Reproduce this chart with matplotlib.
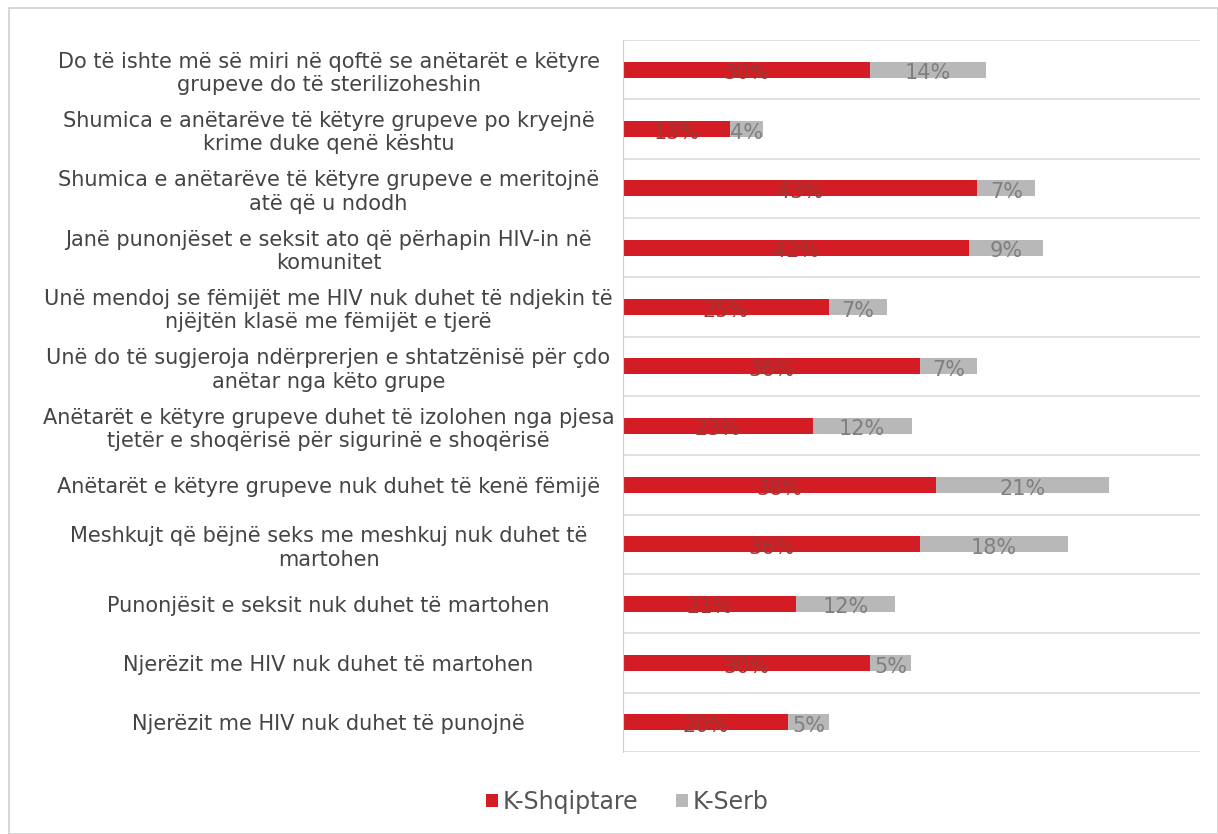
import matplotlib.pyplot as plt
from matplotlib.patches import Rectangle

plt.rcParams['font.family'] = ['DejaVu Sans']

# categories top to bottom
categories = [
    "Do të ishte më së miri në qoftë se anëtarët e këtyre\ngrupeve do të sterilizoheshin",
    "Shumica e anëtarëve të këtyre grupeve po kryejnë\nkrime duke qenë kështu",
    "Shumica e anëtarëve të këtyre grupeve e meritojnë\natë që u ndodh",
    "Janë punonjëset e seksit ato që përhapin HIV-in në\nkomunitet",
    "Unë mendoj se fëmijët me HIV nuk duhet të ndjekin të\nnjëjtën klasë me fëmijët e tjerë",
    "Unë do të sugjeroja ndërprerjen e shtatzënisë për çdo\nanëtar nga këto grupe",
    "Anëtarët e këtyre grupeve duhet të izolohen nga pjesa\ntjetër e shoqërisë për sigurinë e shoqërisë",
    "Anëtarët e këtyre grupeve nuk duhet të kenë fëmijë",
    "Meshkujt që bëjnë seks me meshkuj nuk duhet të\nmartohen",
    "Punonjësit e seksit nuk duhet të martohen",
    "Njerëzit me HIV nuk duhet të martohen",
    "Njerëzit me HIV nuk duhet të punojnë",
]
shqiptare = [30, 13, 43, 42, 25, 36, 23, 38, 36, 21, 30, 20]
serb = [14, 4, 7, 9, 7, 7, 12, 21, 18, 12, 5, 5]

red = "#d41c24"
gray = "#b8b8b8"

fig = plt.figure(figsize=(12.18, 8.34), dpi=100)
fig.patches.append(Rectangle((0.007, 0.0), 0.993, 0.99, transform=fig.transFigure,
                             fill=False, edgecolor="#d0d0d0", linewidth=1.2))
ax = fig.add_axes([623 / 1218, 1 - 752 / 834, (1200 - 623) / 1218, (752 - 40) / 834])

y = list(range(len(categories)))
b1 = ax.barh(y, shqiptare, height=0.27, color=red, label="K-Shqiptare")
b2 = ax.barh(y, serb, left=shqiptare, height=0.27, color=gray, label="K-Serb")

for i in y:
    ax.text(shqiptare[i] / 2, i + 0.06, f"{shqiptare[i]}%", ha="center", va="center",
            fontsize=15, color="#9a3a36")
    ax.text(shqiptare[i] + serb[i] / 2, i + 0.06, f"{serb[i]}%", ha="center", va="center",
            fontsize=15, color="#7f7f7f")

ax.set_xlim(0, 70)
ax.set_ylim(len(categories) - 0.5, -0.5)
ax.set_yticks(y)
ax.set_yticklabels(categories, fontsize=15, color="#444444", ha="center",
                   linespacing=1.2)
ax.tick_params(axis="y", length=0, pad=212)
ax.set_xticks([])
for yy in [i + 0.5 for i in range(-1, len(categories))]:
    ax.axhline(yy, color="#dcdcdc", linewidth=1.2, zorder=0)
for s in ["top", "right", "bottom"]:
    ax.spines[s].set_visible(False)
ax.spines["left"].set_color("#d0d0d0")

fig.legend(handles=[b1, b2], loc="center", bbox_to_anchor=(0.515, 1 - 802 / 834),
           ncol=2, frameon=False, fontsize=17, handlelength=0.5, handleheight=0.5,
           handletextpad=0.2, columnspacing=1.6, labelcolor="#555555")

fig.savefig("out.png")
